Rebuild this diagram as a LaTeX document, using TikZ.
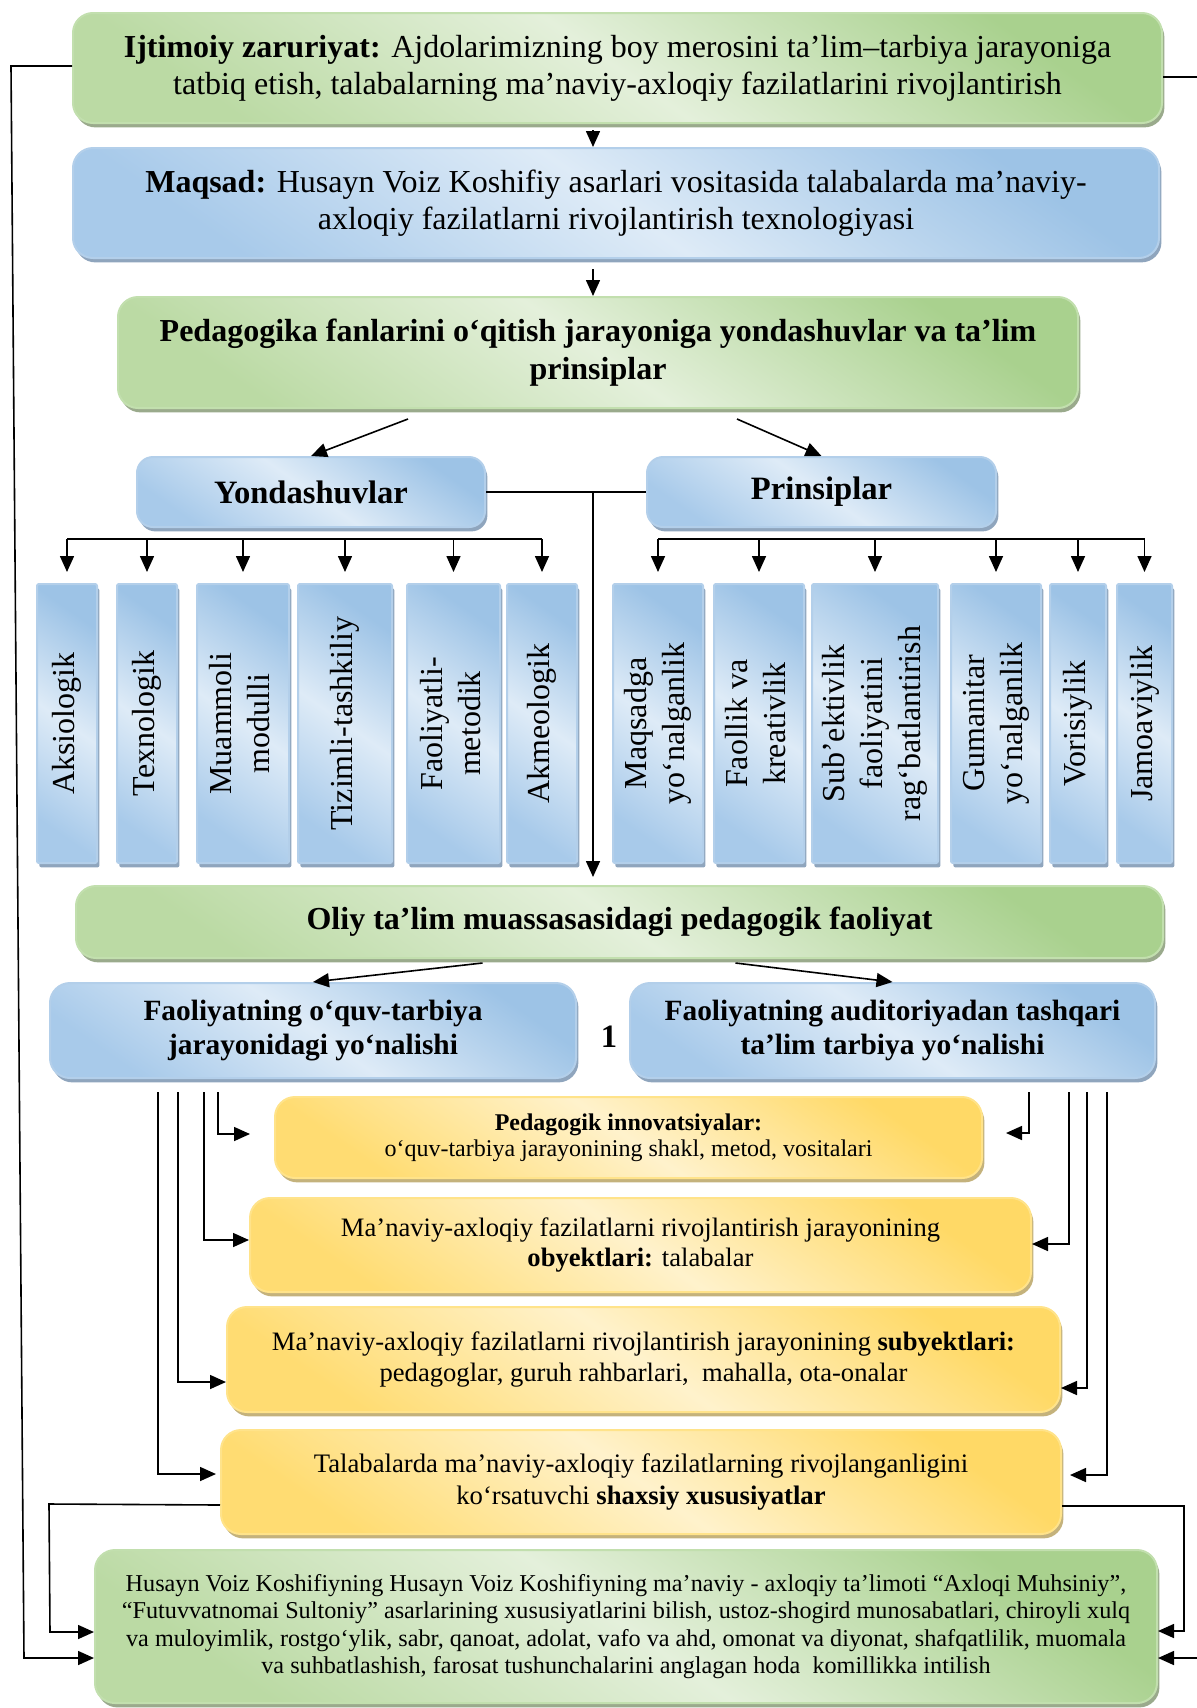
\documentclass[tikz,border=0pt]{standalone}
\usepackage{fontspec}
\setmainfont{Liberation Serif}
\usepackage{xcolor}
\usepackage{tikz}
\usetikzlibrary{shadows}
\usetikzlibrary{positioning}
\usetikzlibrary{arrows.meta}
\usetikzlibrary{calc}

\definecolor{grnD}{HTML}{A9D18E}
\definecolor{grnL}{HTML}{E4F0DB}
\definecolor{grnB}{HTML}{BBDAA4}
\definecolor{grnE}{HTML}{C2DFAE}
\definecolor{grnS}{HTML}{9AAA8C}
\definecolor{bluD}{HTML}{9DC3E6}
\definecolor{bluL}{HTML}{DEEBF7}
\definecolor{bluB}{HTML}{A8CAEA}
\definecolor{bluE}{HTML}{B3CFEA}
\definecolor{bluS}{HTML}{8FA5BD}
\definecolor{ylwD}{HTML}{FFD966}
\definecolor{ylwL}{HTML}{FFF2CC}
\definecolor{ylwB}{HTML}{FFDC72}
\definecolor{ylwE}{HTML}{FFE38A}
\definecolor{ylwS}{HTML}{C4B27C}

\newcommand{\fmain}{\fontsize{16}{18.5}\selectfont}
\newcommand{\fhead}{\fontsize{16.3}{19}\selectfont\bfseries}
\newcommand{\fvert}{\fontsize{16}{19}\selectfont}
\newcommand{\vtext}[1]{\rotatebox{90}{\begin{tabular}{@{}c@{}}#1\end{tabular}}}

\tikzstyle{basebox}=[rectangle,align=center,inner sep=2pt,text=black,line width=1pt]
\tikzstyle{greenbox}=[basebox,rounded corners=10pt,draw=grnE,top color=grnD,bottom color=grnB,middle color=grnL,shading angle=-35,
  drop shadow={shadow xshift=1.2pt,shadow yshift=-2.2pt,fill=grnS,opacity=1}]
\tikzstyle{bluebox}=[basebox,rounded corners=10pt,draw=bluE,top color=bluD,bottom color=bluB,middle color=bluL,shading angle=-35,
  drop shadow={shadow xshift=1.2pt,shadow yshift=-2.2pt,fill=bluS,opacity=1}]
\tikzstyle{yellowbox}=[basebox,rounded corners=10pt,draw=ylwE,top color=ylwD,bottom color=ylwB,middle color=ylwL,shading angle=-35,
  drop shadow={shadow xshift=1.2pt,shadow yshift=-2.2pt,fill=ylwS,opacity=1}]
\tikzstyle{vbox}=[bluebox,rounded corners=1pt,inner sep=0pt,font=\fvert]
\tikzstyle{conn}=[draw,line width=0.8pt,-{Triangle[length=8pt,width=7pt]}]
\tikzstyle{line}=[draw,line width=0.8pt]

\begin{document}
\begin{tikzpicture}[x=0.5pt,y=-0.5pt]
  \useasboundingbox (0,0) rectangle (1197,1708);

  % upper part
  \node[greenbox,minimum width=544.5pt,minimum height=55pt,font=\fmain] (zar) at (617.5,68)
    {\textbf{Ijtimoiy zaruriyat:} Ajdolarimizning boy merosini ta’lim–tarbiya jarayoniga\\
     tatbiq etish, talabalarning ma’naviy-axloqiy fazilatlarini rivojlantirish};
  \node[bluebox,minimum width=543pt,minimum height=55pt,font=\fmain] (maq) at (616,203)
    {\textbf{Maqsad:} Husayn Voiz Koshifiy asarlari vositasida talabalarda ma’naviy-\\
     axloqiy fazilatlarni rivojlantirish texnologiyasi};
  \node[greenbox,minimum width=480pt,minimum height=55.5pt,font=\fontsize{16}{19}\selectfont\bfseries] (ped) at (598,352.5)
    {Pedagogika fanlarini o‘qitish jarayoniga yondashuvlar va ta’lim\\ prinsiplar};
  \node[bluebox,rounded corners=8pt,minimum width=174pt,minimum height=35pt,font=\fhead] (yon) at (311,492) {Yondashuvlar};
  \node[bluebox,rounded corners=8pt,minimum width=174.5pt,minimum height=35pt,font=\fhead] (pri) at (821.5,492) {Prinsiplar};

  % yondashuvlar va prinsiplar
  \foreach \x/\w/\name/\txt in {67/30pt/aks/Aksiologik, 147/30pt/tex/Texnologik, 243/46pt/mua/{Muammoli\\modulli},
      345/47pt/tiz/Tizimli-tashkiliy, 453.5/46.5pt/fao/{Faoliyatli-\\metodik}, 542/35pt/akm/Akmeologik,
      658/45pt/mqs/{Maqsadga\\yo‘nalganlik}, 759/45pt/fak/{Faollik va\\kreativlik},
      875/63pt/sbk/{Sub’ektivlik\\faoliyatini\\rag‘batlantirish}, 996/45pt/gum/{Gumanitar\\yo‘nalganlik},
      1078/28pt/vor/Vorisiylik, 1144.5/27.5pt/jam/Jamoaviylik}
    \node[vbox,minimum width=\w,minimum height=139.5pt] (\name) at (\x,723.5) {\vtext{\txt}};

  \coordinate (mid) at (593,0);
  \coordinate (ty) at (0,539);
  \draw[conn,shorten <=3pt] (zar.south -| mid) -- (maq.north -| mid);
  \draw[conn,shorten <=5pt] (maq.south -| mid) -- (ped.north -| mid);
  \draw[conn] ([shift={(-190,10)}]ped.south) -- (yon.north);
  \draw[conn] ([shift={(139,10)}]ped.south) -- (pri.north);
  \draw[line] (yon.east) -- (pri.west);

  \draw[line] (aks.north |- ty) -- (akm.north |- ty);
  \draw[line] (mqs.north |- ty) -- (jam.north |- ty);
  \foreach \name in {aks,tex,mua,tiz,fao,akm,mqs,fak,sbk,gum,vor,jam}
    \draw[conn,shorten >=5.5pt] (\name.north |- ty) -- (\name.north);

  % lower part
  \node[greenbox,minimum width=543.5pt,minimum height=36pt,font=\fontsize{16}{19}\selectfont\bfseries] (oli) at (619.5,922)
    {Oliy ta’lim muassasasidagi pedagogik faoliyat};
  \draw[conn,shorten >=4pt] (yon.east -| mid) -- (oli.north -| mid);
  \node[bluebox,minimum width=263pt,minimum height=47.5pt,font=\fontsize{14.7}{17.4}\selectfont\bfseries] (fql) at (313,1030.5)
    {Faoliyatning o‘quv-tarbiya\\ jarayonidagi yo‘nalishi};
  \node[bluebox,minimum width=262.5pt,minimum height=47.5pt,font=\fontsize{14.7}{17.4}\selectfont\bfseries] (fqr) at (892.5,1030.5)
    {Faoliyatning auditoriyadan tashqari\\ ta’lim tarbiya yo‘nalishi};
  \node[font=\fhead] (num) at (609,1037) {1};

  \node[yellowbox,minimum width=353.5pt,minimum height=40.5pt,font=\fontsize{12}{13}\selectfont] (inn) at (628.5,1137.5)
    {\textbf{Pedagogik innovatsiyalar:}\\ o‘quv-tarbiya jarayonining shakl, metod, vositalari};
  \node[yellowbox,minimum width=390.5pt,minimum height=47pt,font=\fontsize{13.3}{15.3}\selectfont] (oby) at (640.5,1245)
    {Ma’naviy-axloqiy fazilatlarni rivojlantirish jarayonining\\ \textbf{obyektlari:} talabalar};
  \node[yellowbox,minimum width=416.5pt,minimum height=52.5pt,font=\fontsize{13.3}{15.8}\selectfont] (suy) at (643.5,1359.5)
    {Ma’naviy-axloqiy fazilatlarni rivojlantirish jarayonining \textbf{subyektlari:}\\ pedagoglar, guruh rahbarlari,\ \ mahalla, ota-onalar};
  \node[yellowbox,minimum width=420pt,minimum height=52pt,font=\fontsize{13.35}{15.8}\selectfont] (xus) at (641,1482)
    {Talabalarda ma’naviy-axloqiy fazilatlarning rivojlanganligini\\ ko‘rsatuvchi \textbf{shaxsiy xususiyatlar}};
  \node[greenbox,minimum width=531pt,minimum height=76.5pt,font=\fontsize{12.1}{13.8}\selectfont] (kom) at (626,1626.5)
    {Husayn Voiz Koshifiyning Husayn Voiz Koshifiyning ma’naviy - axloqiy ta’limoti “Axloqi Muhsiniy”,\\
     “Futuvvatnomai Sultoniy” asarlarining xususiyatlarini bilish, ustoz-shogird munosabatlari, chiroyli xulq\\
     va muloyimlik, rostgo‘ylik, sabr, qanoat, adolat, vafo va ahd, omonat va diyonat, shafqatlilik, muomala\\
     va suhbatlashish, farosat tushunchalarini anglagan hoda\ \ komillikka intilish};

  \draw[conn] ([shift={(-137,4)}]oli.south) -- (fql.north);
  \draw[conn] ([shift={(116,4)}]oli.south) -- (fqr.north);

  \coordinate (ls) at (0,1092);
  \foreach \x/\y/\name/\gap in {218/1134/inn/12pt, 204/1240/oby/0pt, 178/1382/suy/0pt, 158/1474/xus/2pt}
    \draw[conn,shorten >=\gap] (\x,0 |- ls) |- (\name.west |- 0,\y);
  \foreach \x/\y/\name/\gap in {1029/1133/inn/11.5pt, 1069/1244/oby/0pt, 1087/1388/suy/0pt, 1107/1475/xus/4pt}
    \draw[conn,shorten >=\gap] (\x,0 |- ls) |- (\name.east |- 0,\y);

  % outer loops
  \draw[conn] (zar.west |- 0,66) -- (11,66) -- (24,1658) -- (kom.west |- 0,1658);
  \draw[conn] (zar.east |- 0,77) -- (1202,77) -- (1202,1658) -- (kom.east |- 0,1658);
  \draw[conn] (xus.west |- 0,1505) -- (49,1504) -- (50,1632) -- (kom.west |- 0,1632);
  \draw[conn] (xus.east |- 0,1506) -- (1184,1506) |- (kom.east |- 0,1631);
\end{tikzpicture}
\end{document}
